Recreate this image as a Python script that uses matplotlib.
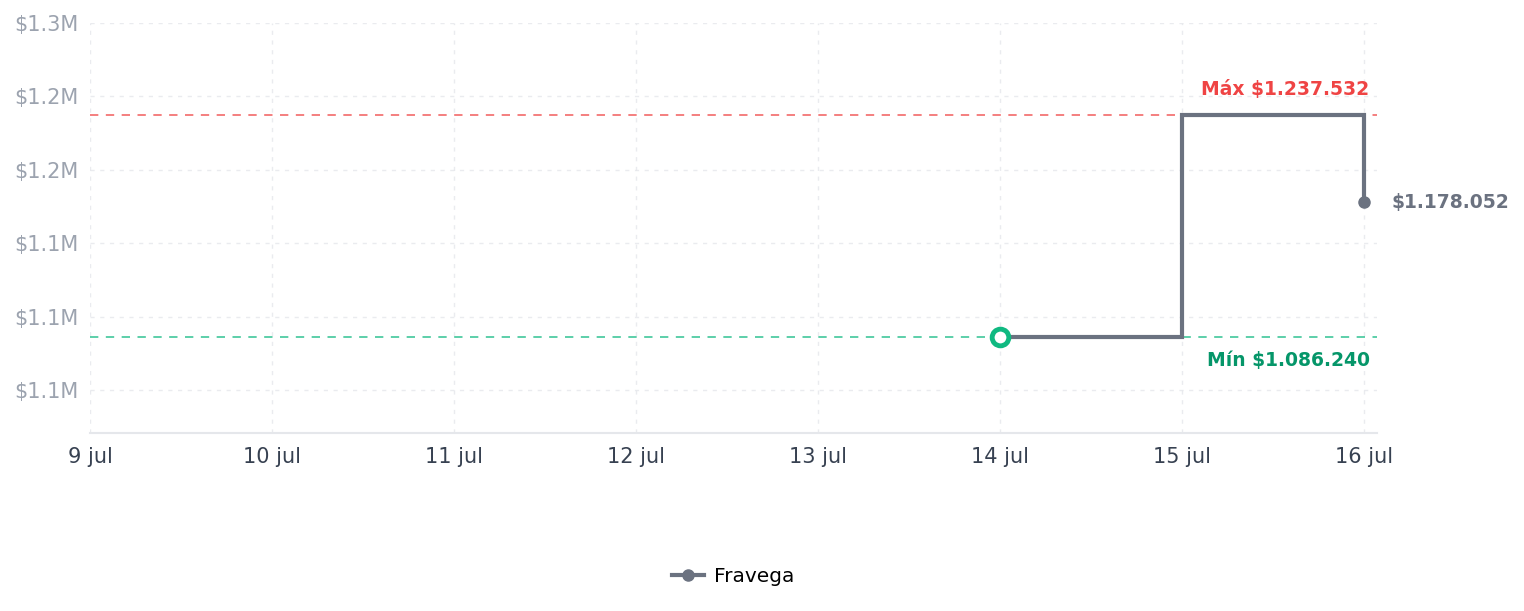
import matplotlib.pyplot as plt
import matplotlib.dates as mdates
from datetime import datetime

# data
day_labels = ["9 jul", "10 jul", "11 jul", "12 jul", "13 jul", "14 jul", "15 jul", "16 jul"]
days = [datetime(2025, 7, d) for d in range(9, 17)]
price_dates = [datetime(2025, 7, 14), datetime(2025, 7, 15), datetime(2025, 7, 16)]
prices = [1086240, 1237532, 1178052]
series_name = "Fravega"
y_ticks = [1050000, 1100000, 1150000, 1200000, 1250000, 1300000]
y_tick_labels = ["$1.1M", "$1.1M", "$1.1M", "$1.2M", "$1.2M", "$1.3M"]

def fmt(v):
    return "$" + f"{v:,}".replace(",", ".")

p_max = max(prices)
p_min = min(prices)
i_min = prices.index(p_min)

line_c = "#6b7280"
red = "#ef4444"
green = "#10b981"

fig = plt.figure(figsize=(15.24, 6.11), dpi=100)
ax = fig.add_axes([90 / 1524, 1 - 433 / 611, (1377 - 90) / 1524, 410 / 611])

# step line (value holds until next date)
ax.step(price_dates, prices, where="post", color=line_c, lw=3.0,
        solid_joinstyle="miter", zorder=3)
ax.plot(price_dates[-1], prices[-1], "o", color=line_c, ms=8, zorder=4)
ax.plot(price_dates[i_min], p_min, "o", mfc="white", mec=green, mew=3.5, ms=12, zorder=5)
# legend proxy
ax.plot([], [], "-o", color=line_c, lw=3, ms=8, label=series_name)

ax.axhline(p_max, color=red, lw=1.2, alpha=0.8, dashes=(5, 4.5), zorder=2)
ax.axhline(p_min, color=green, lw=1.2, alpha=0.8, dashes=(5, 4.5), zorder=2)

x_right = mdates.date2num(days[-1]) + 0.071
ax.set_xlim(mdates.date2num(days[0]), x_right)
ax.set_ylim(1020800, 1300000)

lbl_x = mdates.date2num(days[-1]) + 0.03
ax.annotate("Máx " + fmt(p_max), (lbl_x, p_max), xytext=(0, 18), textcoords="offset points",
            ha="right", va="center", color=red, fontsize=13.5, fontweight="bold")
ax.annotate("Mín " + fmt(p_min), (lbl_x, p_min), xytext=(0, -17), textcoords="offset points",
            ha="right", va="center", color="#059669", fontsize=13.5, fontweight="bold")
ax.annotate(fmt(prices[-1]), (price_dates[-1], prices[-1]), xytext=(20, 0),
            textcoords="offset points", ha="left", va="center", color=line_c,
            fontsize=13.5, fontweight="bold", annotation_clip=False)

ax.set_xticks(days)
ax.set_xticklabels(day_labels, fontsize=15, color="#374151")
ax.set_yticks(y_ticks)
ax.set_yticklabels(y_tick_labels, fontsize=15, color="#9ca3af")
ax.tick_params(length=0, pad=10)
ax.tick_params(axis="y", pad=8)

ax.grid(True, color="#e5e7eb", lw=1, dashes=(3, 4), alpha=0.8)
ax.set_axisbelow(True)
for s in ["top", "right", "left"]:
    ax.spines[s].set_visible(False)
ax.spines["bottom"].set_color("#e5e7eb")
ax.spines["bottom"].set_linewidth(1.5)

ax.legend(loc="center", bbox_to_anchor=(0.5, -0.351), frameon=False, fontsize=14.5,
          handlelength=1.6, handletextpad=0.5)

fig.savefig("out.png", dpi=100)
